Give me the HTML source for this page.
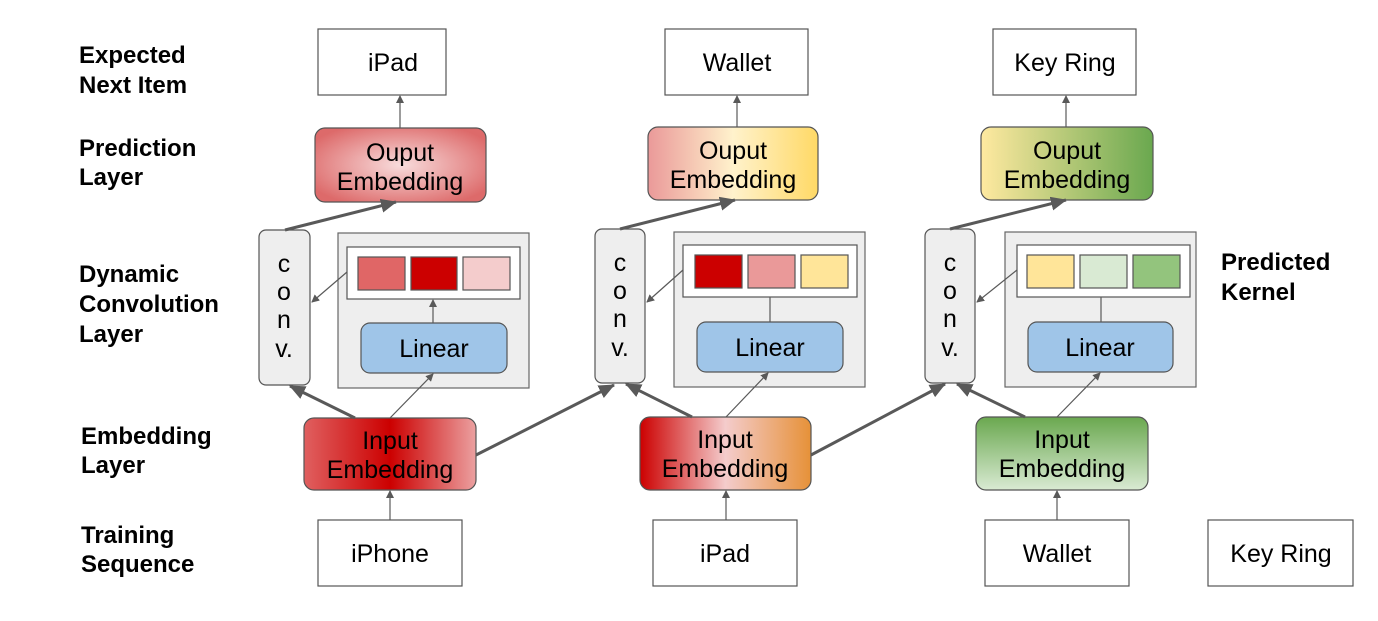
<!DOCTYPE html>
<html><head><meta charset="utf-8"><style>
html,body{margin:0;padding:0;background:#fff;}
svg{display:block;}
text{font-family:"Liberation Sans",Arial,sans-serif;}
.lbl{font-size:24px;font-weight:bold;fill:#000;}
.t{font-size:25px;fill:#000;text-anchor:middle;}
</style></head><body>
<svg width="1378" height="621" viewBox="0 0 1378 621" xmlns="http://www.w3.org/2000/svg">
<defs>
<radialGradient id="o1" cx="0.5" cy="0.5" r="0.6"><stop offset="0" stop-color="#f8dcdc"/><stop offset="1" stop-color="#dd6a6a"/></radialGradient>
<linearGradient id="i1" x1="0" x2="1"><stop offset="0" stop-color="#e06060"/><stop offset="0.5" stop-color="#cc0000"/><stop offset="1" stop-color="#eba0a0"/></linearGradient>
<linearGradient id="o2" x1="0" x2="1"><stop offset="0" stop-color="#ea9999"/><stop offset="0.5" stop-color="#fff2cc"/><stop offset="1" stop-color="#ffd966"/></linearGradient>
<linearGradient id="i2" x1="0" x2="1"><stop offset="0" stop-color="#cc0000"/><stop offset="0.5" stop-color="#f4cccc"/><stop offset="1" stop-color="#e69138"/></linearGradient>
<linearGradient id="o3" x1="0" x2="1"><stop offset="0" stop-color="#ffe9a0"/><stop offset="1" stop-color="#6aa84f"/></linearGradient>
<linearGradient id="i3" x1="0" x2="0" y1="0" y2="1"><stop offset="0" stop-color="#6aa84f"/><stop offset="1" stop-color="#d9ead3"/></linearGradient>
<marker id="a" markerWidth="8" markerHeight="8" refX="7" refY="4" orient="auto" markerUnits="userSpaceOnUse"><path d="M0,0 L8,4 L0,8 z" fill="#595959"/></marker>
<marker id="A" markerWidth="16" markerHeight="14" refX="15" refY="7" orient="auto" markerUnits="userSpaceOnUse"><path d="M0,0 L16,7 L0,14 z" fill="#595959"/></marker>
</defs>

<g class="lbl">
<text x="79" y="63">Expected</text><text x="79" y="93">Next Item</text>
<text x="79" y="156">Prediction</text><text x="79" y="185">Layer</text>
<text x="79" y="282">Dynamic</text><text x="79" y="312">Convolution</text><text x="79" y="342">Layer</text>
<text x="81" y="444">Embedding</text><text x="81" y="473">Layer</text>
<text x="81" y="543">Training</text><text x="81" y="572">Sequence</text>
<text x="1221" y="270">Predicted</text><text x="1221" y="300">Kernel</text>
</g>

<g stroke="#555" stroke-width="1.2">
<rect x="318" y="29" width="128" height="66" fill="#fff"/>
<rect x="665" y="29" width="143" height="66" fill="#fff"/>
<rect x="993" y="29" width="143" height="66" fill="#fff"/>
<rect x="318" y="520" width="144" height="66" fill="#fff"/>
<rect x="653" y="520" width="144" height="66" fill="#fff"/>
<rect x="985" y="520" width="144" height="66" fill="#fff"/>
<rect x="1208" y="520" width="145" height="66" fill="#fff"/>
<rect x="315" y="128" width="171" height="74" rx="10" fill="url(#o1)"/>
<rect x="648" y="127" width="170" height="73" rx="10" fill="url(#o2)"/>
<rect x="981" y="127" width="172" height="73" rx="10" fill="url(#o3)"/>
<rect x="259" y="230" width="51" height="155" rx="7" fill="#eeeeee"/>
<rect x="595" y="229" width="50" height="154" rx="7" fill="#eeeeee"/>
<rect x="925" y="229" width="50" height="154" rx="7" fill="#eeeeee"/>
<rect x="338" y="233" width="191" height="155" fill="#eeeeee" stroke="#666"/>
<rect x="674" y="232" width="191" height="155" fill="#eeeeee" stroke="#666"/>
<rect x="1005" y="232" width="191" height="155" fill="#eeeeee" stroke="#666"/>
<rect x="347" y="247" width="173" height="52" fill="#fff"/>
<rect x="683" y="245" width="174" height="52" fill="#fff"/>
<rect x="1017" y="245" width="173" height="52" fill="#fff"/>
<rect x="358" y="257" width="47" height="33" fill="#e06666"/>
<rect x="411" y="257" width="46" height="33" fill="#cc0000"/>
<rect x="463" y="257" width="47" height="33" fill="#f4cccc"/>
<rect x="695" y="255" width="47" height="33" fill="#cc0000"/>
<rect x="748" y="255" width="47" height="33" fill="#ea9999"/>
<rect x="801" y="255" width="47" height="33" fill="#ffe599"/>
<rect x="1027" y="255" width="47" height="33" fill="#ffe599"/>
<rect x="1080" y="255" width="47" height="33" fill="#d9ead3"/>
<rect x="1133" y="255" width="47" height="33" fill="#93c47d"/>
<rect x="361" y="323" width="146" height="50" rx="9" fill="#9fc5e8"/>
<rect x="697" y="322" width="146" height="50" rx="9" fill="#9fc5e8"/>
<rect x="1028" y="322" width="145" height="50" rx="9" fill="#9fc5e8"/>
<rect x="304" y="418" width="172" height="72" rx="10" fill="url(#i1)"/>
<rect x="640" y="417" width="171" height="73" rx="10" fill="url(#i2)"/>
<rect x="976" y="417" width="172" height="73" rx="10" fill="url(#i3)"/>
</g>

<g stroke="#595959" fill="none">
<line x1="400" y1="128" x2="400" y2="96" stroke-width="1.2" marker-end="url(#a)"/>
<line x1="390" y1="520" x2="390" y2="491" stroke-width="1.2" marker-end="url(#a)"/>
<line x1="285" y1="230" x2="396" y2="202" stroke-width="3" marker-end="url(#A)"/>
<line x1="355" y1="418" x2="290" y2="386" stroke-width="3" marker-end="url(#A)"/>
<line x1="390" y1="418" x2="433" y2="374" stroke-width="1.2" marker-end="url(#a)"/>
<line x1="433" y1="323" x2="433" y2="300" stroke-width="1.2" marker-end="url(#a)"/>
<line x1="347" y1="272" x2="312" y2="302" stroke-width="1.2" marker-end="url(#a)"/>
<line x1="476" y1="455" x2="614" y2="385" stroke-width="3" marker-end="url(#A)"/>
<line x1="737" y1="127" x2="737" y2="96" stroke-width="1.2" marker-end="url(#a)"/>
<line x1="726" y1="520" x2="726" y2="491" stroke-width="1.2" marker-end="url(#a)"/>
<line x1="620" y1="229" x2="735" y2="200" stroke-width="3" marker-end="url(#A)"/>
<line x1="692" y1="417" x2="626" y2="384" stroke-width="3" marker-end="url(#A)"/>
<line x1="726" y1="417" x2="768" y2="373" stroke-width="1.2" marker-end="url(#a)"/>
<line x1="770" y1="322" x2="770" y2="297" stroke-width="1.2"/>
<line x1="683" y1="270" x2="647" y2="302" stroke-width="1.2" marker-end="url(#a)"/>
<line x1="811" y1="455" x2="945" y2="384" stroke-width="3" marker-end="url(#A)"/>
<line x1="1066" y1="127" x2="1066" y2="96" stroke-width="1.2" marker-end="url(#a)"/>
<line x1="1057" y1="520" x2="1057" y2="491" stroke-width="1.2" marker-end="url(#a)"/>
<line x1="950" y1="229" x2="1066" y2="200" stroke-width="3" marker-end="url(#A)"/>
<line x1="1025" y1="417" x2="957" y2="384" stroke-width="3" marker-end="url(#A)"/>
<line x1="1057" y1="417" x2="1100" y2="373" stroke-width="1.2" marker-end="url(#a)"/>
<line x1="1101" y1="322" x2="1101" y2="297" stroke-width="1.2"/>
<line x1="1017" y1="270" x2="977" y2="302" stroke-width="1.2" marker-end="url(#a)"/>
</g>

<g class="t">
<text x="393" y="71">iPad</text>
<text x="737" y="71">Wallet</text>
<text x="1065" y="71">Key Ring</text>
<text x="390" y="562">iPhone</text>
<text x="725" y="562">iPad</text>
<text x="1057" y="562">Wallet</text>
<text x="1281" y="562">Key Ring</text>
<text x="400" y="161">Ouput</text><text x="400" y="190">Embedding</text>
<text x="733" y="159">Ouput</text><text x="733" y="188">Embedding</text>
<text x="1067" y="159">Ouput</text><text x="1067" y="188">Embedding</text>
<text x="390" y="449">Input</text><text x="390" y="478">Embedding</text>
<text x="725" y="448">Input</text><text x="725" y="477">Embedding</text>
<text x="1062" y="448">Input</text><text x="1062" y="477">Embedding</text>
<text x="434" y="357">Linear</text>
<text x="770" y="356">Linear</text>
<text x="1100" y="356">Linear</text>
<text x="284" y="272">c</text><text x="284" y="300">o</text><text x="284" y="328">n</text><text x="284" y="357">v.</text>
<text x="620" y="271">c</text><text x="620" y="299">o</text><text x="620" y="327">n</text><text x="620" y="356">v.</text>
<text x="950" y="271">c</text><text x="950" y="299">o</text><text x="950" y="327">n</text><text x="950" y="356">v.</text>
</g>
</svg>
</body></html>
